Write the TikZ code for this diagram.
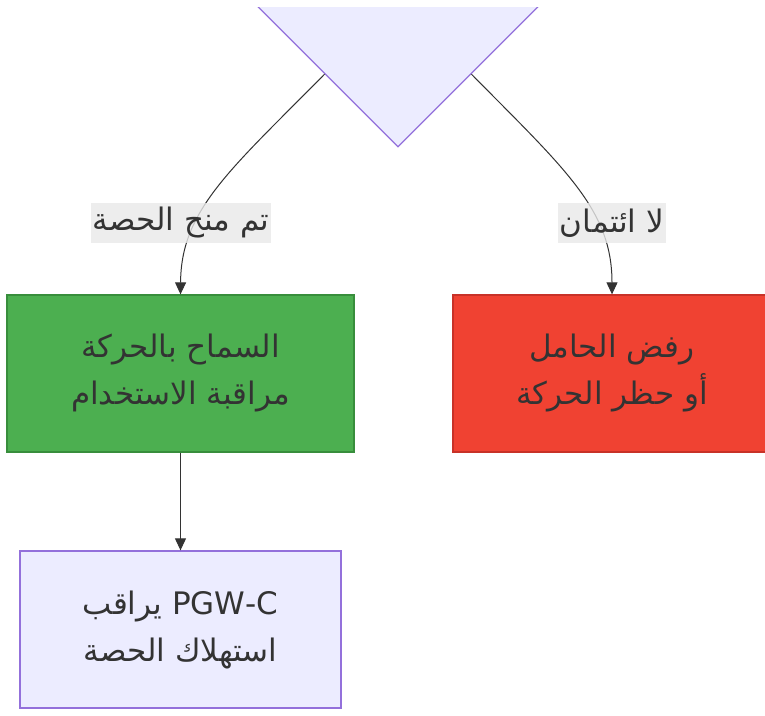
\documentclass[tikz,border=0pt]{standalone}
\usepackage{fontspec}
\usepackage{tikz}
\usepackage{xcolor}
\usetikzlibrary{shapes.geometric, arrows.meta, positioning}
\TeXXeTstate=1
\newfontfamily\arabicfont[Script=Arabic]{DejaVu Sans}
\definecolor{flowlilac}{RGB}{236, 236, 255}
\definecolor{flowpurple}{RGB}{147, 112, 219}
\definecolor{flowgreen}{RGB}{76, 175, 80}
\definecolor{flowdarkgreen}{RGB}{56, 142, 60}
\definecolor{flowred}{RGB}{240, 66, 50}
\definecolor{flowdarkred}{RGB}{200, 50, 40}
\definecolor{flowtext}{RGB}{51, 51, 51}
\definecolor{flowlabel}{RGB}{232, 232, 232}

\begin{document}
\begin{tikzpicture}[
    x=1pt, y=-1pt,
    block/.style={
        rectangle,
        draw=flowpurple,
        fill=flowlilac,
        line width=1.3pt,
        minimum height=157pt,
        align=center,
        text=flowtext,
        font=\arabicfont\fontsize{31}{47}\selectfont
    },
    decision/.style={
        diamond,
        aspect=1,
        draw=flowpurple,
        fill=flowlilac,
        line width=1.3pt,
        inner sep=0pt,
        minimum width=400pt,
        minimum height=400pt
    },
    arrow/.style={
        -{Triangle[length=12pt, width=11pt]},
        line width=1pt,
        flowtext
    },
    edgelabel/.style={
        fill=flowlabel,
        fill opacity=0.8,
        text opacity=1,
        text=flowtext,
        minimum height=40pt,
        inner xsep=1.5pt,
        font=\arabicfont\fontsize{31}{34}\selectfont
    }
]

\useasboundingbox (0,0) rectangle (765,715);
\clip (0,0) rectangle (765,715);

% Decision (cut at the top)
\begin{scope}
\clip (0,7) rectangle (765,715);
\node[decision] (check) at (398,-53) {};
\end{scope}

% Outcomes
\node[block, fill=flowgreen, draw=flowdarkgreen, minimum width=347pt] (allow) at (180.5,373.5)
    {\beginR السماح بالحركة\endR\\ \beginR مراقبة الاستخدام\endR};
\node[block, fill=flowred, draw=flowdarkred, minimum width=318pt] (reject) at (612,373.5)
    {\beginR رفض الحامل\endR\\ \beginR أو حظر الحركة\endR};

% Monitoring
\node[block, minimum width=321pt] (monitor) at (180.5,629.5)
    {\beginR\beginL PGW-C\endL{} يراقب\endR\\ \beginR استهلاك الحصة\endR};

% Arrows
\draw[arrow] (check.-120) .. controls (230,170) and (181,210) .. (allow.north);
\draw[arrow] (check.-60) .. controls (566,170) and (612,210) .. (reject.north);
\draw[arrow] (allow) -- (monitor);

% Edge labels
\node[edgelabel] (granted) at (181,223) {\beginR تم منح الحصة\endR};
\node[edgelabel] (nocredit) at (612,223) {\beginR لا ائتمان\endR};

\end{tikzpicture}
\end{document}
